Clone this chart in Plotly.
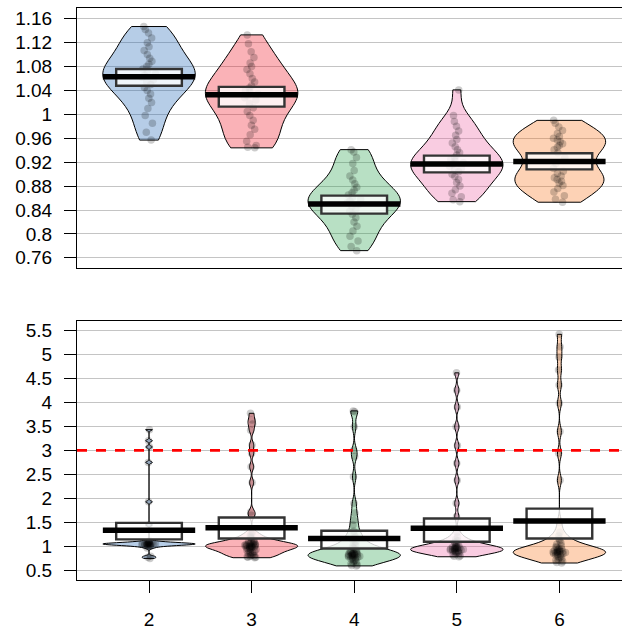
import numpy as np
import plotly.graph_objects as go
from plotly.subplots import make_subplots

groups = [2, 3, 4, 5, 6]
colors = ["12,91,176", "238,0,17", "21,152,61", "236,87,154", "250,107,9"]

# ---- top panel data ----
top_g2 = [1.147, 1.142, 1.136, 1.128, 1.120, 1.113, 1.107, 1.100, 1.094, 1.089, 1.084, 1.080, 1.076,
          1.072, 1.068, 1.065, 1.062, 1.058, 1.054, 1.050, 1.045, 1.040, 1.034, 1.027, 1.020, 1.010,
          0.998, 0.985, 0.970, 0.957]
top_g3 = [1.133, 1.118, 1.105, 1.095, 1.086, 1.080, 1.075, 1.068, 1.060, 1.054, 1.048, 1.044, 1.040,
          1.037, 1.034, 1.031, 1.028, 1.024, 1.018, 1.011, 1.005, 0.998, 0.990, 0.982, 0.975, 0.966,
          0.955, 0.948, 0.945, 0.944]
top_g4 = [0.941, 0.937, 0.928, 0.918, 0.906, 0.897, 0.890, 0.884, 0.878, 0.873, 0.869, 0.865, 0.861,
          0.858, 0.855, 0.852, 0.849, 0.846, 0.842, 0.838, 0.833, 0.827, 0.820, 0.813, 0.805, 0.796,
          0.788, 0.779, 0.772]
top_g5 = [1.041, 0.998, 0.988, 0.980, 0.972, 0.965, 0.958, 0.952, 0.946, 0.941, 0.936, 0.932, 0.928,
          0.925, 0.922, 0.919, 0.916, 0.913, 0.910, 0.907, 0.904, 0.900, 0.896, 0.891, 0.886, 0.880,
          0.874, 0.868, 0.862, 0.857, 0.854]
top_g6 = [0.990, 0.985, 0.979, 0.973, 0.968, 0.963, 0.960, 0.957, 0.954, 0.951, 0.948, 0.945, 0.941,
          0.936, 0.928, 0.918, 0.910, 0.905, 0.901, 0.897, 0.894, 0.891, 0.888, 0.885, 0.881, 0.876,
          0.870, 0.864, 0.858, 0.853]
top_means = [1.063, 1.033, 0.850, 0.917, 0.921]
top_ci_lo = [1.048, 1.013, 0.834, 0.903, 0.908]
top_ci_hi = [1.076, 1.046, 0.864, 0.931, 0.935]

# ---- bottom panel data ----
bot_g2 = [3.43, 3.20, 3.07, 2.75, 1.93, 1.45,
          1.12, 1.10, 1.09, 1.08, 1.08, 1.07, 1.07, 1.07, 1.06, 1.06, 1.06, 1.06, 1.05, 1.05, 1.05,
          1.04, 1.04, 1.04, 1.03, 1.03, 1.02, 1.01, 1.00, 0.97, 0.80, 0.78, 0.755]
bot_g3 = [3.77, 3.63, 3.55, 3.42, 3.11, 2.94, 2.66, 2.33, 1.72, 1.65,
          1.30, 1.26, 1.22, 1.19, 1.16, 1.14, 1.12, 1.10, 1.09, 1.08, 1.07, 1.06, 1.05, 1.05, 1.04,
          1.04, 1.03, 1.03, 1.02, 1.02, 1.01, 1.01, 1.00, 1.00, 0.99, 0.99, 0.98, 0.97, 0.96, 0.95,
          0.94, 0.93, 0.92, 0.90, 0.89, 0.88, 0.86, 0.85, 0.84, 0.82, 0.81, 0.80, 0.79, 0.78, 0.78, 0.77]
bot_g4 = [3.82, 3.80, 3.49, 3.00, 2.87, 2.45, 1.90, 1.70, 1.55, 1.45,
          1.32, 1.25, 1.20, 1.15, 1.10, 1.06, 1.03, 1.00, 0.97, 0.95, 0.93, 0.91, 0.90, 0.89, 0.88,
          0.87, 0.86, 0.85, 0.85, 0.84, 0.84, 0.83, 0.83, 0.82, 0.82, 0.81, 0.81, 0.80, 0.80, 0.79,
          0.78, 0.77, 0.76, 0.75, 0.74, 0.72, 0.70, 0.68, 0.66, 0.64, 0.62, 0.61, 0.60]
bot_g5 = [4.61, 4.25, 3.90, 3.49, 3.10, 2.73, 2.38, 1.90, 1.62,
          1.30, 1.20, 1.15, 1.12, 1.09, 1.07, 1.05, 1.03, 1.01, 1.00, 0.99, 0.98, 0.97, 0.97, 0.96,
          0.96, 0.95, 0.95, 0.94, 0.94, 0.93, 0.93, 0.92, 0.92, 0.91, 0.90, 0.89, 0.88, 0.87, 0.85,
          0.83, 0.81, 0.80, 0.79]
bot_g6 = [5.41, 5.15, 4.94, 4.67, 4.36, 3.98, 3.39, 2.94, 2.38, 1.50,
          1.30, 1.22, 1.16, 1.12, 1.08, 1.05, 1.02, 1.00, 0.98, 0.96, 0.95, 0.94, 0.93, 0.92, 0.91,
          0.91, 0.90, 0.90, 0.89, 0.89, 0.88, 0.88, 0.87, 0.86, 0.85, 0.84, 0.83, 0.82, 0.80, 0.79,
          0.77, 0.75, 0.73, 0.71, 0.69, 0.67, 0.66]
bot_means = [1.342, 1.39, 1.17, 1.384, 1.53]
bot_ci_lo = [1.15, 1.17, 0.96, 1.10, 1.17]
bot_ci_hi = [1.494, 1.606, 1.33, 1.585, 1.79]
ref_line = 3

top_ticks = [0.76, 0.80, 0.84, 0.88, 0.92, 0.96, 1.00, 1.04, 1.08, 1.12, 1.16]
top_ticktext = ["0.76", "0.8", "0.84", "0.88", "0.92", "0.96", "1", "1.04", "1.08", "1.12", "1.16"]
bot_ticks = [0.5, 1, 1.5, 2, 2.5, 3, 3.5, 4, 4.5, 5, 5.5]
bot_ticktext = ["0.5", "1", "1.5", "2", "2.5", "3", "3.5", "4", "4.5", "5", "5.5"]

top_data = [top_g2, top_g3, top_g4, top_g5, top_g6]
bot_data = [bot_g2, bot_g3, bot_g4, bot_g5, bot_g6]


def nrd0(v):
    v = np.asarray(v, dtype=float)
    sd = v.std(ddof=1)
    iqr = np.percentile(v, 75) - np.percentile(v, 25)
    lo = min(sd, iqr / 1.34)
    if lo <= 0:
        lo = sd
    return 0.9 * lo * len(v) ** (-0.2)


fig = make_subplots(rows=2, cols=1)

VW = 0.9   # bean width
BW = 0.32  # half width of inference band
MW = 0.45  # half width of mean line

for row, data in [(1, top_data), (2, bot_data)]:
    for g, vals, col in zip(groups, data, colors):
        fig.add_trace(go.Violin(
            x=[g] * len(vals), y=vals, width=VW, spanmode="hard", scalemode="width",
            bandwidth=nrd0(vals),
            fillcolor=f"rgba({col},0.3)", line=dict(color="black", width=1),
            points="all", pointpos=0, jitter=0.16,
            marker=dict(color="rgba(0,0,0,0.2)", size=7.5, line=dict(width=0)),
            box_visible=False, meanline_visible=False, showlegend=False, hoverinfo="skip",
        ), row=row, col=1)

shapes = []
shapes.append(dict(type="line", xref="x2 domain", yref="y2", x0=0, x1=1, y0=ref_line, y1=ref_line,
                   line=dict(color="#FF0000", width=2.6, dash="10px,9px"), layer="above"))
for xr_, yr_, means, lo, hi in [("x", "y", top_means, top_ci_lo, top_ci_hi),
                                ("x2", "y2", bot_means, bot_ci_lo, bot_ci_hi)]:
    for g, m, a, b in zip(groups, means, lo, hi):
        shapes.append(dict(type="rect", xref=xr_, yref=yr_, x0=g - BW, x1=g + BW, y0=a, y1=b,
                           fillcolor="rgba(255,255,255,0.8)", line=dict(color="#333333", width=2.4),
                           layer="above"))
        shapes.append(dict(type="line", xref=xr_, yref=yr_, x0=g - MW, x1=g + MW, y0=m, y1=m,
                           line=dict(color="black", width=5.5), layer="above"))

font = dict(family="Liberation Sans, Arial, sans-serif", size=19, color="black")
xr = [1.298, 6.61]
grid = "#C4C4C4"

fig.update_layout(
    width=622, height=629, margin=dict(l=77, r=0, t=8, b=49),
    paper_bgcolor="white", plot_bgcolor="white", font=font, shapes=shapes,
    violinmode="overlay", showlegend=False,
    xaxis=dict(domain=[0, 1], range=xr, showline=True, mirror=True, linecolor="black", linewidth=1,
               showgrid=False, zeroline=False, showticklabels=False, ticks=""),
    yaxis=dict(domain=[0.5455, 1], range=[0.743, 1.178], tickvals=top_ticks, ticktext=top_ticktext,
               showline=True, linecolor="black", linewidth=1, ticks="outside", ticklen=12,
               tickcolor="black", showgrid=True, gridcolor=grid, gridwidth=1, zeroline=False,
               ticklabelstandoff=8),
    xaxis2=dict(domain=[0, 1], range=xr, showline=True, mirror=True, linecolor="black", linewidth=1,
                showgrid=False, zeroline=False, tickvals=groups, ticktext=[str(g) for g in groups],
                ticks="outside", ticklen=12, tickcolor="black", ticklabelstandoff=10),
    yaxis2=dict(domain=[0, 0.4533], range=[0.307, 5.693], tickvals=bot_ticks, ticktext=bot_ticktext,
                showline=True, linecolor="black", linewidth=1, ticks="outside", ticklen=12,
                tickcolor="black", showgrid=True, gridcolor=grid, gridwidth=1, zeroline=False,
                ticklabelstandoff=8),
)

fig.write_html("out.html")
